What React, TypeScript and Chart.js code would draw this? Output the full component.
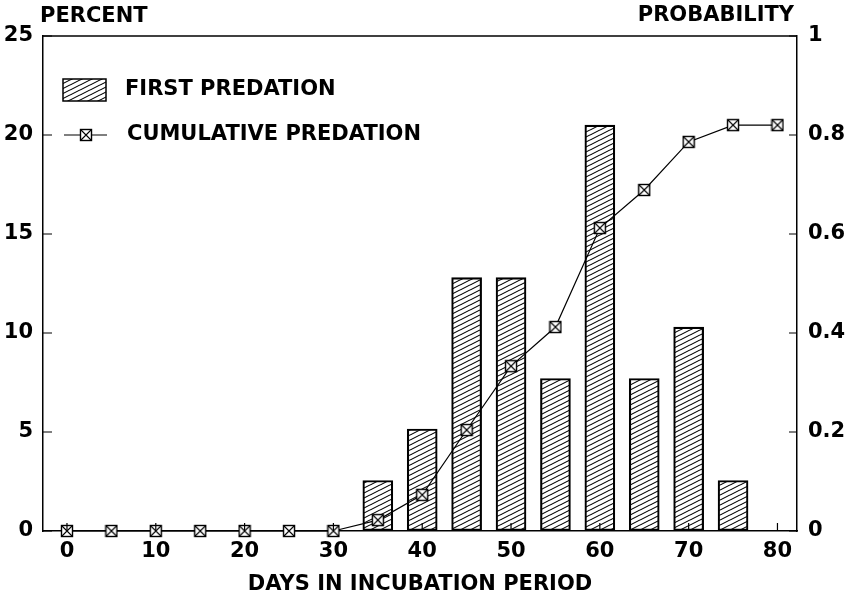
import React, { useEffect, useRef } from "react";
import { Chart, registerables } from "chart.js";

Chart.register(...registerables);

const days = [0, 5, 10, 15, 20, 25, 30, 35, 40, 45, 50, 55, 60, 65, 70, 75, 80];
const barDays = [35, 40, 45, 50, 55, 60, 65, 70, 75];
const firstPredation = [2.55, 5.15, 12.8, 12.8, 7.7, 20.5, 7.7, 10.3, 2.55];
const cumulativePredation = [0, 0, 0, 0, 0, 0, 0, 0.022, 0.073, 0.204, 0.333, 0.412, 0.612, 0.689, 0.786, 0.82, 0.82];
const xTicks = [0, 10, 20, 30, 40, 50, 60, 70, 80];
const leftTicks = [0, 5, 10, 15, 20, 25];
const rightTicks = [0, 0.2, 0.4, 0.6, 0.8, 1];
const rightTickLabels = ["0", "0.2", "0.4", "0.6", "0.8", "1"];

const FONT = "'DejaVu Sans', sans-serif";

function makeMarker(): HTMLCanvasElement {
  const c = document.createElement("canvas");
  c.width = 14;
  c.height = 14;
  const g = c.getContext("2d")!;
  g.fillStyle = "#fff";
  g.fillRect(1, 1, 12, 12);
  g.strokeStyle = "#000";
  g.lineWidth = 1.4;
  g.strokeRect(1.5, 1.5, 11, 11);
  g.beginPath();
  g.moveTo(2, 2);
  g.lineTo(12, 12);
  g.moveTo(12, 2);
  g.lineTo(2, 12);
  g.lineWidth = 1.1;
  g.stroke();
  return c;
}

function makeHatch(ctx: CanvasRenderingContext2D): CanvasPattern {
  const c = document.createElement("canvas");
  c.width = 10;
  c.height = 5;
  const g = c.getContext("2d")!;
  g.strokeStyle = "#000";
  g.lineWidth = 1.1;
  for (const dy of [-5, 0, 5]) {
    g.beginPath();
    g.moveTo(-10, 10 + dy);
    g.lineTo(20, -5 + dy);
    g.stroke();
  }
  return ctx.createPattern(c, "repeat")!;
}

export default function App() {
  const ref = useRef<HTMLCanvasElement>(null);
  useEffect(() => {
    const canvas = ref.current!;
    const ctx = canvas.getContext("2d")!;
    const hatch = makeHatch(ctx);
    const marker = makeMarker();

    const decor = {
      id: "decor",
      beforeDatasetsDraw(chart: any) {
        const c = chart.ctx as CanvasRenderingContext2D;
        const { left, right, top, bottom } = chart.chartArea;
        const xs = chart.scales.x;
        const ys = chart.scales.y;
        const ys2 = chart.scales.y2;
        c.save();
        c.strokeStyle = "#000";
        c.lineWidth = 1.5;
        c.beginPath();
        c.moveTo(left, top);
        c.lineTo(right, top);
        c.stroke();
        c.lineWidth = 1.2;
        c.beginPath();
        leftTicks.forEach((v) => {
          const py = ys.getPixelForValue(v);
          c.moveTo(left, py);
          c.lineTo(left + 9, py);
        });
        rightTicks.forEach((v) => {
          const py = ys2.getPixelForValue(v);
          c.moveTo(right, py);
          c.lineTo(right - 8, py);
        });
        c.stroke();
        c.restore();
      },
      afterDatasetsDraw(chart: any) {
        const c = chart.ctx as CanvasRenderingContext2D;
        const { bottom } = chart.chartArea;
        const xs = chart.scales.x;
        c.save();
        c.strokeStyle = "#000";
        c.lineWidth = 1.2;
        c.beginPath();
        xTicks.forEach((v) => {
          const px = xs.getPixelForValue(v);
          c.moveTo(px, bottom);
          c.lineTo(px, bottom - 8);
        });
        c.stroke();
        c.restore();
      },
      afterDraw(chart: any) {
        const c = chart.ctx as CanvasRenderingContext2D;
        c.save();
        c.fillStyle = "#000";
        c.font = `bold 21px ${FONT}`;
        c.textBaseline = "middle";
        c.textAlign = "left";
        c.fillText("PERCENT", 40, 17);
        c.textAlign = "right";
        c.fillText("PROBABILITY", 794, 16);
        // legend
        c.fillStyle = hatch;
        c.fillRect(63, 79, 43, 22);
        c.strokeStyle = "#000";
        c.lineWidth = 1.5;
        c.strokeRect(63, 79, 43, 22);
        c.lineWidth = 1.2;
        c.beginPath();
        c.moveTo(64, 135);
        c.lineTo(107, 135);
        c.stroke();
        c.drawImage(marker, 86 - 7, 135 - 7);
        c.fillStyle = "#000";
        c.textAlign = "left";
        c.fillText("FIRST PREDATION", 125, 90);
        c.fillText("CUMULATIVE PREDATION", 127, 135);
        c.restore();
      },
    };

    const chart = new Chart(canvas, {
      type: "bar",
      data: {
        datasets: [
          {
            type: "line",
            label: "CUMULATIVE PREDATION",
            data: days.map((d, i) => ({ x: d, y: cumulativePredation[i] })),
            yAxisID: "y2",
            xAxisID: "x",
            borderColor: "#000",
            borderWidth: 1.2,
            pointStyle: marker as any,
            pointRadius: 7,
            tension: 0,
            clip: false,
            order: 0,
          } as any,
          {
            type: "bar",
            label: "FIRST PREDATION",
            data: barDays.map((d, i) => ({ x: d, y: firstPredation[i] })),
            yAxisID: "y",
            xAxisID: "x",
            backgroundColor: hatch,
            borderColor: "#000",
            borderWidth: 1.5,
            borderSkipped: false,
            barThickness: 30,
            order: 1,
          } as any,
        ],
      },
      options: {
        responsive: false,
        animation: false,
        layout: { padding: { top: 36, left: 0, right: 0, bottom: 0 } },
        plugins: { legend: { display: false }, tooltip: { enabled: false } },
        scales: {
          x: {
            type: "linear",
            min: -2.7,
            max: 82.2,
            offset: false,
            afterBuildTicks: (s: any) => {
              s.ticks = xTicks.map((v) => ({ value: v }));
            },
            afterFit: (s: any) => {
              s.height = 66;
            },
            grid: { display: true, drawOnChartArea: false, drawTicks: false, offset: false },
            border: { display: true, color: "#000", width: 1.5 },
            ticks: {
              color: "#000",
              padding: 8,
              font: { family: FONT, size: 21, weight: "bold" },
              maxRotation: 0,
              autoSkip: false,
            },
            title: {
              display: true,
              text: "DAYS IN INCUBATION PERIOD",
              color: "#000",
              padding: { top: 0, bottom: 0 },
              font: { family: FONT, size: 21, weight: "bold" },
            },
          },
          y: {
            type: "linear",
            position: "left",
            min: 0,
            max: 25,
            afterBuildTicks: (s: any) => {
              s.ticks = leftTicks.map((v) => ({ value: v }));
            },
            afterFit: (s: any) => {
              s.width = 43;
            },
            grid: { display: true, drawOnChartArea: false, drawTicks: false },
            border: { display: true, color: "#000", width: 1.5 },
            ticks: {
              color: "#000",
              padding: 10,
              font: { family: FONT, size: 21, weight: "bold" },
            },
          },
          y2: {
            type: "linear",
            position: "right",
            min: 0,
            max: 1,
            afterBuildTicks: (s: any) => {
              s.ticks = rightTicks.map((v) => ({ value: v }));
            },
            afterFit: (s: any) => {
              s.width = 49;
            },
            grid: { display: true, drawOnChartArea: false, drawTicks: false },
            border: { display: true, color: "#000", width: 1.5 },
            ticks: {
              color: "#000",
              padding: 11,
              font: { family: FONT, size: 21, weight: "bold" },
              callback: (_v: any, i: number) => rightTickLabels[i],
            },
          },
        },
      },
      plugins: [decor],
    });
    return () => chart.destroy();
  }, []);

  return (
    <div style={{ position: "fixed", left: 0, top: 0, width: 846, height: 597, background: "#fff" }}>
      <canvas ref={ref} width={846} height={597} />
    </div>
  );
}
